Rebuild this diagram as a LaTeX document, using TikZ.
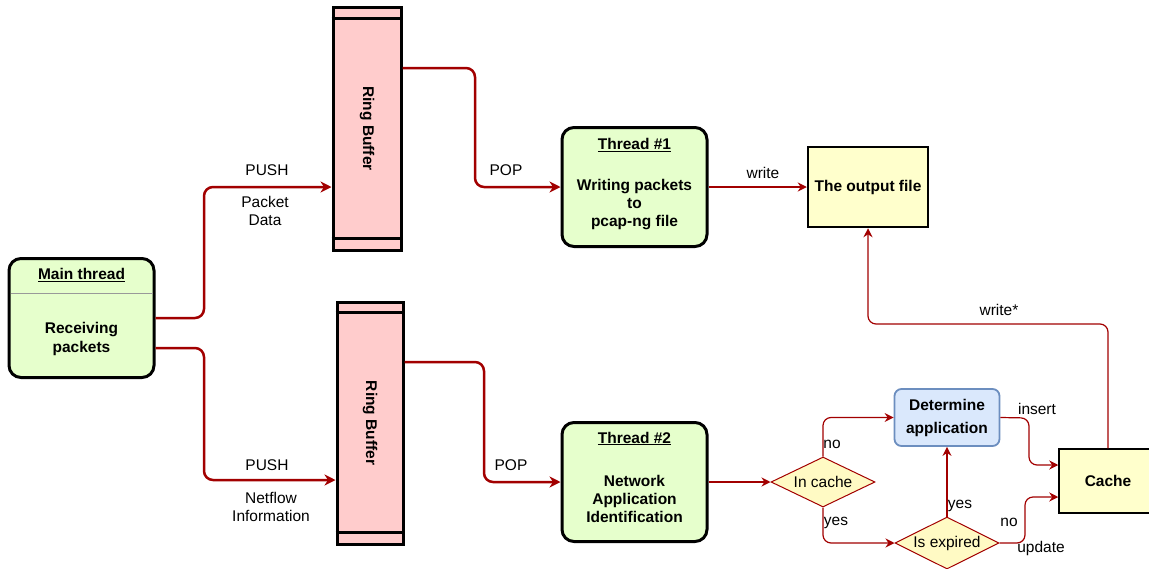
\documentclass[tikz,border=0pt]{standalone}
\usepackage{fontspec}
\setmainfont{Liberation Sans}
\usetikzlibrary{arrows.meta,shapes.geometric}
\definecolor{lnred}{HTML}{A20000}
\definecolor{boxgreen}{HTML}{E6FFCC}
\definecolor{bufred}{HTML}{FFCCCC}
\definecolor{fileyel}{HTML}{FFFFCC}
\definecolor{diayel}{HTML}{FFFAC4}
\definecolor{appblue}{HTML}{DAE8FC}
\definecolor{appedge}{HTML}{6C8EBF}
\definecolor{sepgray}{HTML}{999999}
\begin{document}
\begin{tikzpicture}[x=1pt,y=-1pt,
 every node/.style={font=\fontsize{15.5}{18}\selectfont, inner sep=0pt},
 threadbox/.style={draw=black, line width=3pt, fill=boxgreen, rounded corners=12pt, minimum width=145pt, minimum height=119pt},
 ringbuf/.style={draw=black, line width=3pt, fill=bufred, minimum width=66pt, minimum height=242pt},
 filebox/.style={draw=black, fill=fileyel},
 decision/.style={diamond, shape aspect=2.08, draw=lnred, fill=diayel, line width=1pt, minimum width=104pt, minimum height=50pt},
 bigflow/.style={draw=lnred, line width=2.5pt, rounded corners=9pt, -{Stealth[length=11pt,width=11pt,inset=3.5pt]}},
 flow/.style={draw=lnred, line width=1.2pt, rounded corners=8pt, -{Stealth[length=9pt,width=9pt,inset=3pt]}},
 strong/.style={font=\fontsize{15.5}{18}\selectfont\bfseries, align=center},
 plain/.style={align=center}
]
\useasboundingbox (0,0) rectangle (1149,568);

% main thread
\node[threadbox] (main) at (81.5,318) {};
\draw[sepgray, line width=1pt] ([xshift=3pt]main.west |- 0,293) coordinate (sepL) -- ([xshift=-3pt]main.east |- 0,293) coordinate (sepR);
\node[strong] (maintitle) at (81.5,275) {\underline{Main thread}};
\node[strong] (mainbody) at (81.5,338.5) {Receiving\\[1pt]packets};

% ring buffers
\node[ringbuf, minimum width=68pt, minimum height=243pt] (rb1) at (367,128.5) {};
\draw[line width=3pt] ([yshift=-13pt]rb1.north west) -- ([yshift=-13pt]rb1.north east);
\draw[line width=3pt] ([yshift=13pt]rb1.south west) -- ([yshift=13pt]rb1.south east);
\node[strong, rotate=-90] (rb1txt) at (rb1) {Ring Buffer};

\node[ringbuf] (rb2) at (370,423) {};
\draw[line width=3pt] ([yshift=-12pt]rb2.north west) -- ([yshift=-12pt]rb2.north east);
\draw[line width=3pt] ([yshift=13pt]rb2.south west) -- ([yshift=13pt]rb2.south east);
\node[strong, rotate=-90] (rb2txt) at (rb2) {Ring Buffer};

% threads
\node[threadbox] (t1) at (634.5,187) {};
\node[strong] (t1title) at (634.5,145) {\underline{Thread \#1}};
\node[strong] (t1body) at (634.5,204.5) {Writing packets\\to\\pcap-ng file};

\node[threadbox] (t2) at (634.5,482) {};
\node[strong] (t2title) at (634.5,438.5) {\underline{Thread \#2}};
\node[strong] (t2body) at (634.5,498.5) {Network\\Application\\Identification};

% output file and cache
\node[filebox, line width=2.5pt, minimum width=120pt, minimum height=80pt, font=\fontsize{15.5}{18}\selectfont\bfseries] (out) at (868,187) {The output file};
\node[filebox, line width=1.5pt, minimum width=98pt, minimum height=64pt, font=\fontsize{15.5}{18}\selectfont\bfseries] (cache) at (1108,481) {Cache};

% determine application
\node[draw=appedge, fill=appblue, line width=1.8pt, rounded corners=7pt, minimum width=105pt, minimum height=57pt, align=center, font=\fontsize{15.5}{23}\selectfont\bfseries] (det) at (947,417.5) {Determine\\application};

% decisions
\node[decision] (incache) at (823,482) {In cache};
\node[decision, minimum height=52pt] (isexp) at (947,543) {Is expired};

% thick connectors
\coordinate (m1) at ([yshift=-30pt]main.east);
\draw[bigflow] (main.east) -- (main.east -| 204,0) -- (204,187) -- (rb1.west |- 204,187);
\draw[bigflow] (m1) -- (m1 -| 204,0) -- (204,480) -- (rb2.west |- 204,480);
\draw[bigflow] (rb1.east |- 0,68) -- (475,68) -- (475,187) -- (t1.west);
\draw[bigflow] (rb2.east |- 0,362) -- (484,362) -- (484,482) -- (t2.west);

% thin connectors
\draw[flow] (t1.east) -- (out.west);
\draw[flow] (t2.east) -- (incache.west);
\draw[flow] (incache.north) |- (det.west);
\draw[flow] (incache.south) |- (isexp.west);
\draw[flow] (isexp.north) -- (det.south);
\draw[flow] (isexp.east) -- (1025,543) -- (1025,497) -- (cache.west |- 0,497);
\draw[flow] (det.east) -- (1029,418) -- (1029,465) -- (cache.west |- 0,465);
\draw[flow] (cache.north) -- (1108,324) -- (868,324) -- (out.south);

% labels
\node[plain] (lpush1) at (267,170) {PUSH};
\node[plain] (ldata1) at (265,210.5) {Packet\\Data};
\node[plain] (lpush2) at (267,465) {PUSH};
\node[plain] (ldata2) at (271,506.5) {Netflow\\Information};
\node[plain] (lpop1) at (506,170) {POP};
\node[plain] (lpop2) at (511,465) {POP};
\node[plain] (lwrite) at (763,173) {write};
\node[plain] (lwrite2) at (999,310) {write*};
\node[plain] (lno1) at (832,444) {no};
\node[plain] (lyes1) at (836,523) {yes};
\node[plain] (lyes2) at (960,506) {yes};
\node[plain] (lno2) at (1009,522) {no};
\node[plain] (lupd) at (1041,548) {update};
\node[plain] (lins) at (1037,409) {insert};
\end{tikzpicture}
\end{document}
